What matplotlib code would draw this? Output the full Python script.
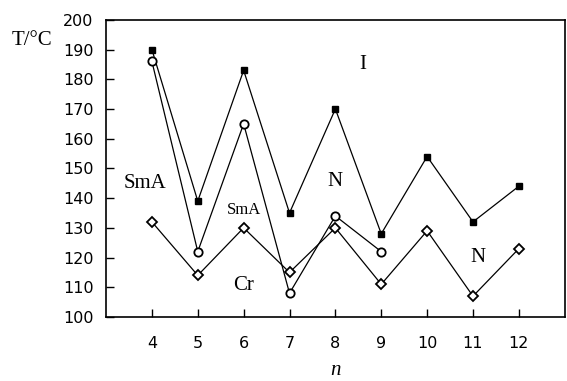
import matplotlib.pyplot as plt

# Transition temperatures versus chain length n
n_all = [4, 5, 6, 7, 8, 9, 10, 11, 12]
t_iso = [190, 139, 183, 135, 170, 128, 154, 132, 144]
n_sma = [4, 5, 6, 7, 8, 9]
t_sma = [186, 122, 165, 108, 134, 122]
t_cr = [132, 114, 130, 115, 130, 111, 129, 107, 123]

serif = 'Liberation Serif'

fig = plt.figure(figsize=(5.67, 3.81), dpi=100)
ax = fig.add_axes([0.187, 0.168, 0.809, 0.78])

ax.plot(n_all, t_iso, color='black', lw=0.9, marker='s', ms=5,
        mfc='black', mec='black')
ax.plot(n_sma, t_sma, color='black', lw=0.9, marker='o', ms=6,
        mfc='white', mec='black', mew=1.3)
ax.plot(n_all, t_cr, color='black', lw=0.9, marker='D', ms=5.5,
        mfc='white', mec='black', mew=1.3)

ax.set_xlim(3, 13)
ax.set_ylim(100, 200)
ax.set_xticks(n_all)
ax.set_yticks(range(100, 201, 10))
ax.tick_params(direction='in', length=6, width=1, labelsize=11.5)
ax.tick_params(axis='y', pad=9)
ax.tick_params(axis='x', pad=14)
for s in ax.spines.values():
    s.set_linewidth(1.2)

# Phase labels
ax.text(8.6, 185, 'I', family=serif, fontsize=15, ha='center', va='center')
ax.text(3.85, 145, 'SmA', family=serif, fontsize=15, ha='center', va='center')
ax.text(6.0, 136, 'SmA', family=serif, fontsize=12, ha='center', va='center')
ax.text(8.0, 145.5, 'N', family=serif, fontsize=15, ha='center', va='center')
ax.text(6.0, 110.5, 'Cr', family=serif, fontsize=15, ha='center', va='center')
ax.text(11.1, 120, 'N', family=serif, fontsize=15, ha='center', va='center')

fig.text(0.057, 0.895, 'T/°C', family=serif, fontsize=15, ha='center', va='center')
ax.set_xlabel('n', family=serif, style='italic', fontsize=15, labelpad=7)

fig.savefig('out.png', dpi=100)
